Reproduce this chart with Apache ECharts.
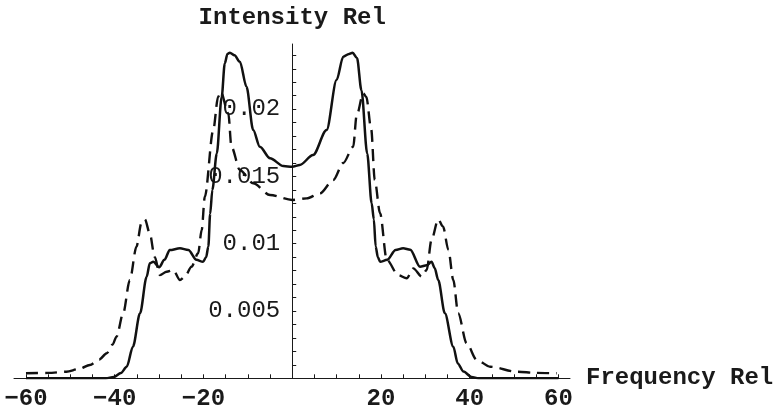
<!DOCTYPE html>
<html>
<head>
<meta charset="utf-8">
<script src="https://cdn.jsdelivr.net/npm/echarts@6/dist/echarts.min.js"></script>
<style>html,body{margin:0;padding:0;background:#fff}#c{width:775px;height:414px}</style>
</head>
<body>
<div id="c"></div>
<script>
// Solid curve (frequency, intensity)
var solidX = [-60, -50, -42, -40.2, -38.6, -37.3, -35.9, -34.3, -32.8, -32.1, -31.3, -30.0, -28.8, -27.6, -25.3, -23.4, -21.6, -20.1, -19.4, -18.9, -18.5, -18.0, -17.0, -15.9, -15.2, -14.6, -14.05, -13.0, -11.8, -10.3, -8.8, -7.3, -5.0, -2.0, 0,
              1.7, 4.7, 7.75, 10.0, 11.5, 12.8, 13.6, 14.6, 15.6, 16.9, 17.9, 18.4, 18.8, 19.3, 19.8, 21.4, 23.3, 25.0, 26.6, 28.8, 30.3, 31.4, 32.1, 32.9, 34.4, 36.3, 37.3, 38.6, 40.4, 42, 50, 60];
var solidY = [0, 0, 0, 0.0001, 0.0004, 0.00086, 0.00235, 0.00483, 0.00755, 0.00854, 0.00866, 0.00825, 0.0088, 0.00953, 0.00966, 0.00953, 0.0088, 0.00866, 0.0090, 0.0098, 0.0122, 0.0140, 0.0167, 0.0209, 0.0234, 0.0241, 0.02419, 0.0240, 0.02352, 0.02166, 0.01845, 0.01721, 0.01635, 0.01577, 0.01572,
              0.01585, 0.01659, 0.01845, 0.02216, 0.0239, 0.0241, 0.02419, 0.0238, 0.0214, 0.0167, 0.0130, 0.0118, 0.0098, 0.0090, 0.00866, 0.0088, 0.00953, 0.00966, 0.00955, 0.00829, 0.0084, 0.00866, 0.0082, 0.0073, 0.00483, 0.00235, 0.0011, 0.0005, 0.0001, 0, 0, 0];
// Dashed curve (frequency, intensity)
var dashedX = [-60, -55, -50.9, -48, -45.6, -43.5, -41.8, -40.5, -39.6, -38.1, -36.6, -35.1, -34.0, -33.2, -32.1, -31.0, -29.8, -28.3, -26.8, -25.3, -24.2, -22.7, -21.2, -20.4, -19.7, -17.8, -16.7, -16.1, -14.4, -13.7, -11.8, -8.8, -5.0, 0,
               3.25, 6.25, 9.25, 11.5, 13.75, 14.5, 16.0, 16.7, 17.8, 18.6, 19.8, 21.3, 23.9, 25.8, 27.3, 29.2, 30.3, 31.4, 32.9, 34.0, 35.2, 36.3, 37.4, 39.3, 41.6, 44.6, 50.6, 55, 59.6];
var dashedY = [0.00037, 0.0004, 0.00049, 0.0007, 0.00099, 0.0014, 0.00186, 0.0025, 0.00309, 0.00483, 0.0073, 0.00978, 0.01152, 0.01181, 0.01077, 0.00903, 0.00767, 0.00792, 0.00805, 0.0073, 0.00755, 0.00829, 0.00929, 0.01102, 0.01349, 0.01845, 0.02092, 0.0213, 0.01969, 0.01721, 0.01548, 0.01449, 0.01362, 0.01325,
               0.01337, 0.01374, 0.01473, 0.0160, 0.0172, 0.0195, 0.02117, 0.0209, 0.0185, 0.01473, 0.01226, 0.0088, 0.00767, 0.00743, 0.00817, 0.00755, 0.00805, 0.0103, 0.01181, 0.01126, 0.00953, 0.0073, 0.00483, 0.0026, 0.00136, 0.00086, 0.00049, 0.0004, 0.00037];
// Tick values and labels
var xTickLabels = [-60, -40, -20, 20, 40, 60];
var xMinorTicks = [-60, -55, -50, -45, -40, -35, -30, -25, -20, -15, -10, -5, 0, 5, 10, 15, 20, 25, 30, 35, 40, 45, 50, 55, 60];
var yTickLabels = [0.005, 0.01, 0.015, 0.02];
var yMinorTicks = [0.001, 0.002, 0.003, 0.004, 0.005, 0.006, 0.007, 0.008, 0.009, 0.01, 0.011, 0.012, 0.013, 0.014, 0.015, 0.016, 0.017, 0.018, 0.019, 0.02, 0.021, 0.022, 0.023, 0.024];

function zip(a, b) { return a.map(function (v, i) { return [v, b[i]]; }); }

var FONT = 'Liberation Mono';
var GRID_LEFT = 14, GRID_RIGHT = 205, X_MIN = -62.7, X_MAX = 62.6;
var plotW = 775 - GRID_LEFT - GRID_RIGHT;
var zeroOffset = plotW * (0 - X_MIN) / (X_MAX - X_MIN);

var chart = echarts.init(document.getElementById('c'), null, { renderer: 'canvas' });
chart.setOption({
  animation: false,
  backgroundColor: '#fff',
  grid: { left: GRID_LEFT, right: GRID_RIGHT, top: 44, bottom: 35.7, containLabel: false, outerBoundsMode: 'none' },
  xAxis: {
    type: 'value', min: X_MIN, max: X_MAX,
    name: 'Frequency Rel', nameLocation: 'end', nameGap: 16,
    nameTextStyle: { fontFamily: FONT, fontWeight: 'bold', fontSize: 24, color: '#1a1a1a', verticalAlign: 'middle' },
    axisLine: { show: true, onZero: false, lineStyle: { color: '#1a1a1a', width: 1 } },
    axisTick: { show: true, inside: true, length: 4, customValues: xMinorTicks, lineStyle: { color: '#1a1a1a', width: 1 } },
    axisLabel: { show: true, customValues: xTickLabels, margin: 9, fontFamily: FONT, fontWeight: 'bold', fontSize: 24, color: '#1a1a1a',
      formatter: function (v) { return v < 0 ? '\u2212' + Math.abs(v) : String(v); } },
    splitLine: { show: false }
  },
  yAxis: {
    type: 'value', min: 0, max: 0.02484, position: 'left', offset: -zeroOffset,
    name: 'Intensity Rel', nameLocation: 'end', nameGap: 14,
    nameTextStyle: { fontFamily: FONT, fontWeight: 'bold', fontSize: 24, color: '#1a1a1a', align: 'center' },
    axisLine: { show: true, onZero: false, lineStyle: { color: '#1a1a1a', width: 1 } },
    axisTick: { show: true, inside: true, length: 4, customValues: yMinorTicks, lineStyle: { color: '#1a1a1a', width: 1 } },
    axisLabel: { show: true, customValues: yTickLabels, margin: 12, fontFamily: FONT, fontSize: 24, color: '#1a1a1a',
      formatter: function (v) { return String(v); } },
    splitLine: { show: false }
  },
  series: [
    { type: 'line', data: zip(solidX, solidY), showSymbol: false, smooth: 0.3, smoothMonotone: 'x',
      lineStyle: { color: '#111', width: 2.5 }, z: 3 },
    { type: 'line', data: zip(dashedX, dashedY), showSymbol: false, smooth: 0.3, smoothMonotone: 'x',
      lineStyle: { color: '#111', width: 2.4, type: [12, 7] }, z: 2 }
  ]
});
</script>
</body>
</html>
